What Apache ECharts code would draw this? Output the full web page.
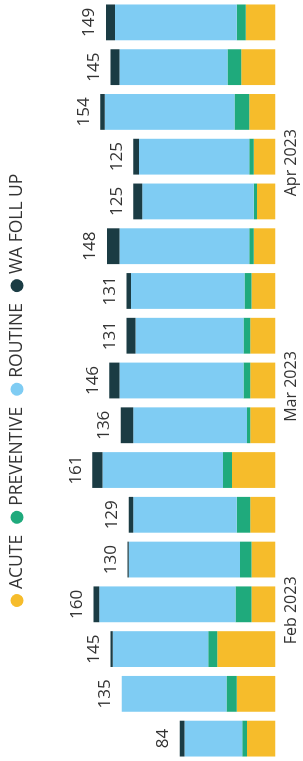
<!DOCTYPE html>
<html><head><meta charset="utf-8">
<script src="https://cdn.jsdelivr.net/npm/echarts@6/dist/echarts.min.js"></script>
<style>
html,body{margin:0;padding:0;background:#fff;overflow:hidden;width:303px;height:761px}
#c{position:absolute;left:0;top:0;width:761px;height:303px;transform-origin:0 0;transform:translateY(761px) rotate(-90deg)}
</style></head><body><div id="c"></div>
<script>
const categories = ['P01','P02','P03','P04','P05','P06','P07','P08','P09','P10','P11','P12','P13','P14','P15','P16','P17'];
const monthTickIndex = [3, 8, 13];
const monthTickLabels = ['Feb 2023', 'Mar 2023', 'Apr 2023'];
const seriesNames = ['ACUTE', 'PREVENTIVE', 'ROUTINE', 'WA FOLL UP'];
const acute      = [25, 34, 51, 21, 21, 22, 38, 22, 22, 22, 21, 19, 16, 19, 23, 30, 26];
const preventive = [ 4,  9,  8, 14, 10, 12,  8,  3,  6,  6,  6,  4,  3,  4, 13, 12,  8];
const routine    = [51, 92, 84,120, 98, 91,106,100,109, 95,100,114, 98, 97,114, 95,107];
const waFollUp   = [ 4,  0,  2,  5,  1,  4,  9, 11,  9,  8,  4, 11,  8,  5,  4,  8,  8];

const totals = categories.map((_, i) => acute[i] + preventive[i] + routine[i] + waFollUp[i]);
const colors = ['#F6BC2B', '#1FAA7C', '#7FCCF3', '#1B3C44'];
const FONT = 'Open Sans';
const seriesData = [acute, preventive, routine, waFollUp];

const chart = echarts.init(document.getElementById('c'), null, {width: 761, height: 303, renderer: 'canvas'});
chart.setOption({
  animation: false,
  color: colors,
  textStyle: {fontFamily: FONT},
  legend: {
    data: seriesNames,
    icon: 'circle',
    itemWidth: 13, itemHeight: 13, itemGap: 11,
    padding: 0,
    top: 8, left: 154,
    textStyle: {fontFamily: FONT, fontSize: 17.5, color: '#333'}
  },
  grid: {left: -2.5, right: -0.5, top: 48, bottom: 27.7, containLabel: false},
  xAxis: {
    type: 'category',
    data: categories,
    axisLine: {show: false}, axisTick: {show: false},
    axisLabel: {
      interval: (i) => monthTickIndex.includes(i),
      formatter: (v, i) => { const k = monthTickIndex.indexOf(i); return k >= 0 ? monthTickLabels[k] : ''; },
      fontFamily: FONT, fontSize: 16, color: '#333', margin: 8,
      padding: [0, 12, 0, 0]
    }
  },
  yAxis: {type: 'value', min: 0, max: 200, show: false, splitLine: {show: false}},
  series: seriesNames.map((name, si) => ({
    name, type: 'bar', stack: 'total', data: seriesData[si],
    barCategoryGap: '20%',
    itemStyle: {color: colors[si]},
    label: si === 3 ? {
      show: true, position: 'top', distance: 8,
      formatter: (p) => String(totals[p.dataIndex]),
      fontFamily: FONT, fontSize: 17, color: '#333'
    } : {show: false}
  }))
});
</script></body></html>
